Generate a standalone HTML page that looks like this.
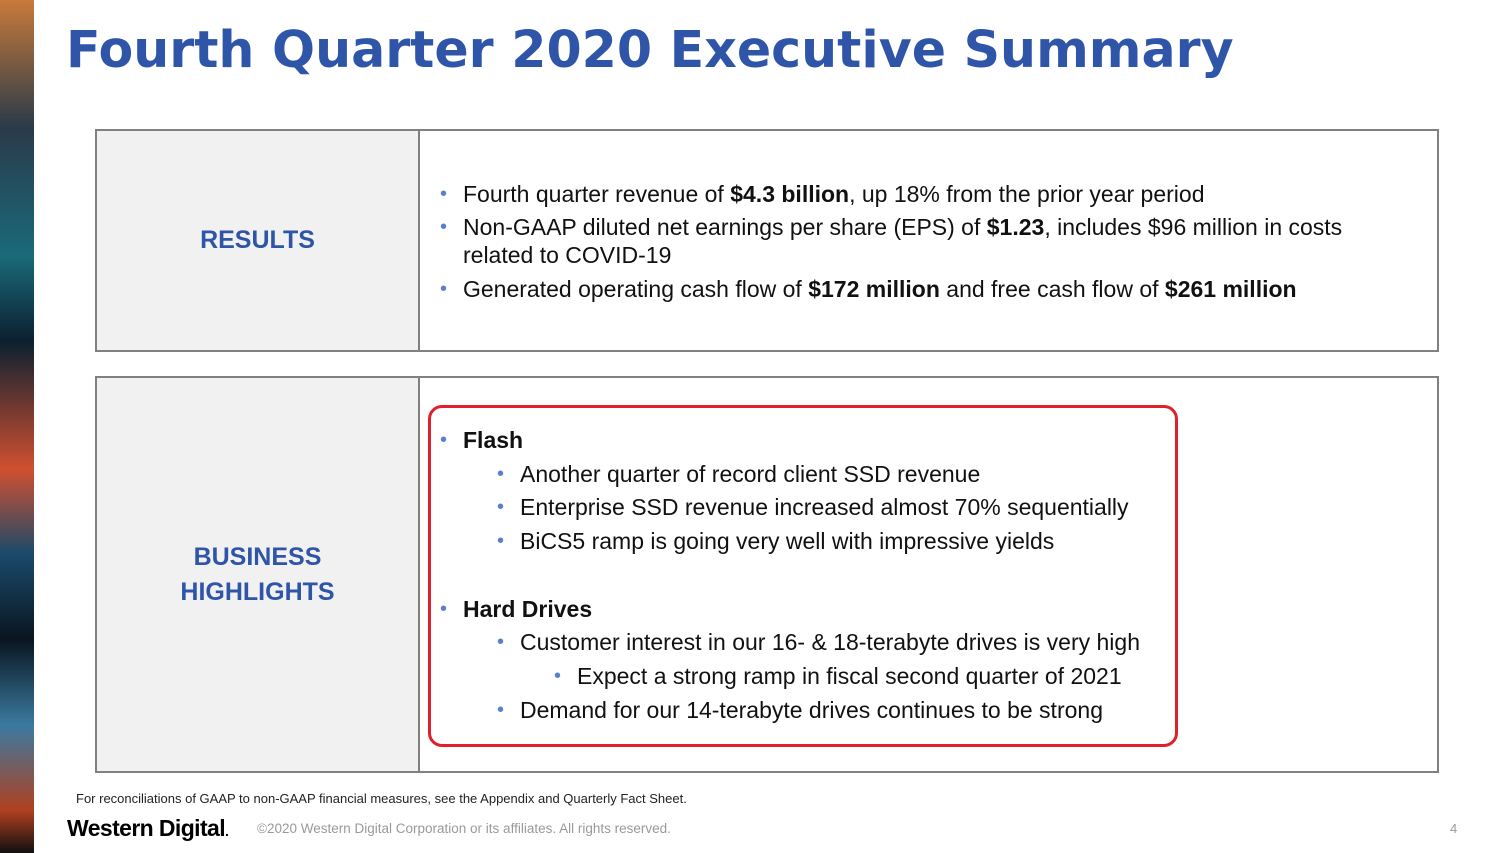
<!DOCTYPE html>
<html><head><meta charset="utf-8"><style>
body{margin:0;width:1499px;height:853px;position:relative;background:#fff;overflow:hidden;font-family:"Liberation Sans",sans-serif}
.strip{position:absolute;left:0;top:0;width:34px;height:853px;background:
linear-gradient(180deg,#c87a3a 0%,#2a3a4a 15%,#1a6a7a 30%,#0c2030 40%,#d05030 55%,#1a4a6a 65%,#0a1520 75%,#3a7aa0 85%,#b04020 95%,#101010 100%)}
.title{position:absolute;left:66px;top:20px;font-family:"DejaVu Sans",sans-serif;font-weight:bold;font-size:50.6px;color:#2f55a8;white-space:nowrap}
.box{position:absolute;left:95px;width:1340px;border:2px solid #808080;background:#fff}
.lab{position:absolute;left:0;top:0;bottom:0;width:321px;background:#f1f1f1;border-right:2px solid #808080;display:flex;align-items:center;justify-content:center;text-align:center;color:#2f55a8;font-weight:bold;font-size:25px;line-height:35px}
.t{position:absolute;font-size:23px;color:#111;white-space:nowrap}
.b{position:absolute;color:#5b7fd0;font-size:20px}
.red{position:absolute;left:428px;top:405px;width:744px;height:336px;border:3px solid #e0202a;border-radius:14px}
</style></head><body>
<div class="strip"></div>
<div class="title">Fourth Quarter 2020 Executive Summary</div>
<div class="box" style="top:129px;height:219px"><div class="lab">RESULTS</div></div>
<div class="box" style="top:376px;height:393px"><div class="lab">BUSINESS<br>HIGHLIGHTS</div></div>
<div class="red"></div>
<span class="b" style="left:440px;top:183px">•</span><span class="t" style="left:463px;top:181px">Fourth quarter revenue of <b>$4.3 billion</b>, up 18% from the prior year period</span>
<span class="b" style="left:440px;top:216px">•</span><span class="t" style="left:463px;top:214px">Non-GAAP diluted net earnings per share (EPS) of <b>$1.23</b>, includes $96 million in costs</span>
<span class="t" style="left:463px;top:242px">related to COVID-19</span>
<span class="b" style="left:440px;top:278px">•</span><span class="t" style="left:463px;top:276px">Generated operating cash flow of <b>$172 million</b> and free cash flow of <b>$261 million</b></span>
<span class="b" style="left:440px;top:429px">•</span><span class="t" style="left:463px;top:427px"><b>Flash</b></span>
<span class="b" style="left:497px;top:463px">•</span><span class="t" style="left:520px;top:461px">Another quarter of record client SSD revenue</span>
<span class="b" style="left:497px;top:496px">•</span><span class="t" style="left:520px;top:494px">Enterprise SSD revenue increased almost 70% sequentially</span>
<span class="b" style="left:497px;top:530px">•</span><span class="t" style="left:520px;top:528px">BiCS5 ramp is going very well with impressive yields</span>
<span class="b" style="left:440px;top:598px">•</span><span class="t" style="left:463px;top:596px"><b>Hard Drives</b></span>
<span class="b" style="left:497px;top:631px">•</span><span class="t" style="left:520px;top:629px">Customer interest in our 16- &amp; 18-terabyte drives is very high</span>
<span class="b" style="left:554px;top:665px">•</span><span class="t" style="left:577px;top:663px">Expect a strong ramp in fiscal second quarter of 2021</span>
<span class="b" style="left:497px;top:699px">•</span><span class="t" style="left:520px;top:697px">Demand for our 14-terabyte drives continues to be strong</span>
<div style="position:absolute;left:76px;top:791px;font-size:13px;color:#222">For reconciliations of GAAP to non-GAAP financial measures, see the Appendix and Quarterly Fact Sheet.</div>
<div style="position:absolute;left:67px;top:815px;font-size:23px;font-weight:bold;color:#000;letter-spacing:-0.6px">Western Digital<span style="font-size:14px">.</span></div>
<div style="position:absolute;left:257px;top:821px;font-size:13.5px;color:#999">©2020 Western Digital Corporation or its affiliates. All rights reserved.</div>
<div style="position:absolute;left:1450px;top:821px;font-size:13px;color:#999">4</div>
</body></html>
